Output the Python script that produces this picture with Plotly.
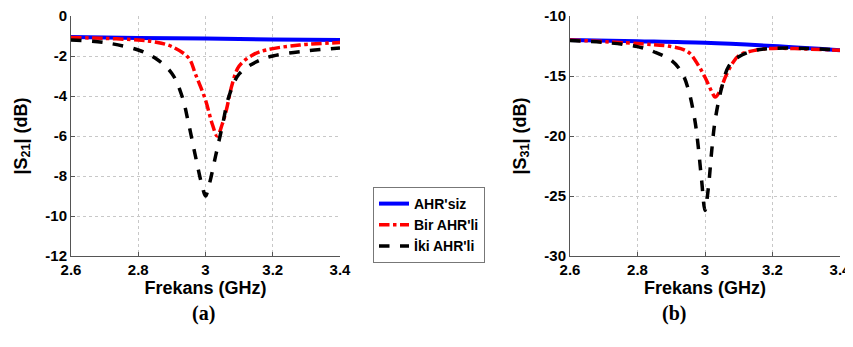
import plotly.graph_objects as go

# ---- data ----
f_blue = [2.6, 2.8, 3.0, 3.2, 3.4]
s21_blue = [-1.05, -1.1, -1.13, -1.17, -1.2]
s31_blue = [-12.0, -12.1, -12.23, -12.5, -12.85]

f_red21 = [2.6, 2.7, 2.8, 2.85, 2.9, 2.95, 2.97, 3.0, 3.02, 3.035, 3.05, 3.062, 3.08, 3.1, 3.14, 3.18, 3.28, 3.4]
s21_red = [-1.07, -1.12, -1.2, -1.3, -1.53, -2.1, -2.9, -4.2, -5.4, -6.0, -5.4, -4.7, -3.37, -2.5, -1.95, -1.7, -1.45, -1.33]

f_blk21 = [2.6, 2.7, 2.8, 2.85, 2.9, 2.93, 2.95, 2.97, 2.99, 3.0, 3.01, 3.03, 3.05, 3.07, 3.1, 3.15, 3.2, 3.3, 3.4]
s21_blk = [-1.2, -1.33, -1.7, -2.1, -2.87, -4.0, -5.4, -7.0, -8.5, -9.0, -8.5, -7.0, -5.5, -4.0, -2.9, -2.3, -2.0, -1.75, -1.6]

f_red31 = [2.6, 2.8, 2.9, 2.95, 2.98, 3.0, 3.02, 3.03, 3.045, 3.06, 3.08, 3.1, 3.15, 3.2, 3.3, 3.4]
s31_red = [-12.0, -12.3, -12.55, -13.0, -14.1, -15.1, -16.3, -16.75, -16.2, -15.1, -14.0, -13.3, -12.85, -12.7, -12.75, -12.85]

f_blk31 = [2.6, 2.7, 2.8, 2.85, 2.9, 2.93, 2.95, 2.97, 2.98, 2.99, 3.0, 3.01, 3.02, 3.03, 3.05, 3.07, 3.1, 3.15, 3.2, 3.3, 3.4]
s31_blk = [-12.05, -12.2, -12.55, -13.0, -13.7, -14.65, -16.05, -18.7, -20.9, -23.7, -26.2, -24.3, -21.2, -18.7, -15.9, -14.2, -13.4, -12.85, -12.7, -12.7, -12.85]

names = ["AHR'siz", "Bir AHR'li", "İki AHR'li"]
x_ticks = [2.6, 2.8, 3.0, 3.2, 3.4]
x_ticktext = ["2.6", "2.8", "3", "3.2", "3.4"]
y1_ticks = [0, -2, -4, -6, -8, -10, -12]
y2_ticks = [-10, -15, -20, -25, -30]

fig = go.Figure()
styles = [dict(color="#0000FF", width=4, dash="solid"),
          dict(color="#FF0000", width=3.5, dash="dashdot"),
          dict(color="#000000", width=3.5, dash="dash")]

left = [(f_blue, s21_blue), (f_red21, s21_red), (f_blk21, s21_blk)]
right = [(f_blue, s31_blue), (f_red31, s31_red), (f_blk31, s31_blk)]
for i, (xx, yy) in enumerate(left):
    fig.add_trace(go.Scatter(x=xx, y=yy, mode="lines", line=dict(shape="spline", **styles[i]),
                             name="<b>%s</b>" % names[i], xaxis="x", yaxis="y"))
for i, (xx, yy) in enumerate(right):
    fig.add_trace(go.Scatter(x=xx, y=yy, mode="lines", line=dict(shape="spline", **styles[i]),
                             name=names[i], showlegend=False, xaxis="x2", yaxis="y2"))

# page body has an 8px margin: build the figure 8px smaller and shift positions
OFF = 8
W, H = 853 - OFF, 347 - OFF
def px(x):
    return (x - OFF) / W
def py(y):
    return (H - (y - OFF)) / H

FAM = "Liberation Sans, Arial"
tickfont = dict(family=FAM, size=15, color="black")
titlefont = dict(family=FAM, size=18, color="black")
ydom = [py(256), py(16)]

common_x = dict(range=[2.6, 3.4], tickvals=x_ticks, ticktext=["<b>%s</b>" % t for t in x_ticktext],
                showgrid=True, gridcolor="#c8c8c8", griddash="dot", gridwidth=1, showline=True,
                linecolor="#555555", linewidth=1, ticks="inside", ticklen=4, tickcolor="#555555",
                tickfont=tickfont, zeroline=False, mirror=False, automargin=False,
                ticklabeloverflow="allow",
                title=dict(text="<b>Frekans (GHz)</b>", font=titlefont, standoff=0))
common_y = dict(showgrid=True, gridcolor="#c8c8c8", griddash="dot", gridwidth=1, showline=True,
                linecolor="#555555", linewidth=1, ticks="inside", ticklen=4, tickcolor="#555555",
                tickfont=tickfont, zeroline=False, automargin=False, ticklabeloverflow="allow")

fig.update_layout(
    width=W, height=H, margin=dict(l=0, r=0, t=0, b=0, autoexpand=False),
    paper_bgcolor="white", plot_bgcolor="white",
    xaxis=dict(domain=[px(71), px(340)], anchor="y", **common_x),
    yaxis=dict(domain=ydom, anchor="x", range=[-12, 0], tickvals=y1_ticks,
               ticktext=["<b>%d</b>" % v for v in y1_ticks],
               title=dict(text="<b>|S<sub>21</sub>| (dB)</b>", font=titlefont, standoff=13), **common_y),
    xaxis2=dict(domain=[px(570), px(840)], anchor="y2", **common_x),
    yaxis2=dict(domain=ydom, anchor="x2", range=[-30, -10], tickvals=y2_ticks,
                ticktext=["<b>%d</b>" % v for v in y2_ticks],
                title=dict(text="<b>|S<sub>31</sub>| (dB)</b>", font=titlefont, standoff=13), **common_y),
    legend=dict(x=px(373), y=py(187), xanchor="left", yanchor="top",
                bordercolor="#777777", borderwidth=1, bgcolor="white",
                font=dict(family=FAM, size=14, color="black"),
                tracegroupgap=0, itemwidth=30),
    showlegend=True,
)

fig.add_annotation(text="<b>(a)</b>", x=px(190), y=py(327), xref="paper", yref="paper",
                   showarrow=False, font=dict(family="Liberation Serif, Times New Roman", size=20, color="black"))
fig.add_annotation(text="<b>(b)</b>", x=px(688), y=py(327), xref="paper", yref="paper",
                   showarrow=False, font=dict(family="Liberation Serif, Times New Roman", size=20, color="black"))

fig.write_html("out.html")
